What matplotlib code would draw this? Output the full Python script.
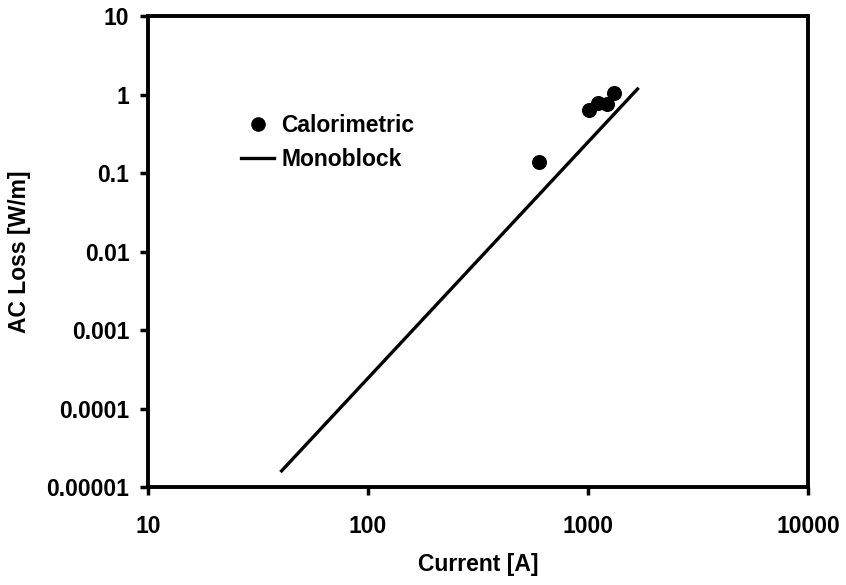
import numpy as np
import matplotlib.pyplot as plt
from matplotlib.lines import Line2D

plt.rcParams['font.family'] = ['Liberation Sans', 'DejaVu Sans']
plt.rcParams['font.weight'] = 'bold'

# calorimetric measurements
calo_current = [600, 1010, 1110, 1220, 1310]
calo_loss = [0.138, 0.635, 0.78, 0.76, 1.04]

# monoblock model (straight line on log-log)
mono_current = [40, 1700]
mono_loss = [1.55e-5, 1.22]

x_ticks = [10, 100, 1000, 10000]
x_labels = ['10', '100', '1000', '10000']
y_ticks = [1e-5, 1e-4, 1e-3, 1e-2, 1e-1, 1, 10]
y_labels = ['0.00001', '0.0001', '0.001', '0.01', '0.1', '1', '10']

FS = 16.5

fig = plt.figure(figsize=(8.46, 5.85), dpi=100)
ax = fig.add_axes([0.175, 0.1675, 0.78, 0.8051])

ax.plot(mono_current, mono_loss, color='black', lw=2.4, solid_capstyle='butt')
ax.plot(calo_current, calo_loss, 'o', color='black', ms=9.8, ls='none')

ax.set_xscale('log')
ax.set_yscale('log')
ax.set_xlim(10, 10000)
ax.set_ylim(1e-5, 10)
ax.set_xticks(x_ticks)
ax.set_xticklabels(x_labels)
ax.set_yticks(y_ticks)
ax.set_yticklabels(y_labels)
ax.minorticks_off()
ax.tick_params(direction='out', length=6, width=2.5, labelsize=FS)
ax.tick_params(axis='y', pad=7.5)
ax.tick_params(axis='x', pad=14)
for s in ax.spines.values():
    s.set_linewidth(2.8)

ax.set_xlabel('Current [A]', fontsize=FS, fontweight='bold', labelpad=11)
ax.set_ylabel('AC Loss [W/m]', fontsize=FS, fontweight='bold', labelpad=11)

handles = [Line2D([], [], marker='o', color='black', ls='none', ms=9.5),
           Line2D([], [], color='black', lw=2.4)]
ax.legend(handles, ['Calorimetric', 'Monoblock'], loc='upper left',
          bbox_to_anchor=(0.11, 0.835), frameon=False,
          handlelength=1.45, handletextpad=0.3, labelspacing=0.45,
          prop={'weight': 'bold', 'size': FS})

fig.savefig('out.png', dpi=100)
